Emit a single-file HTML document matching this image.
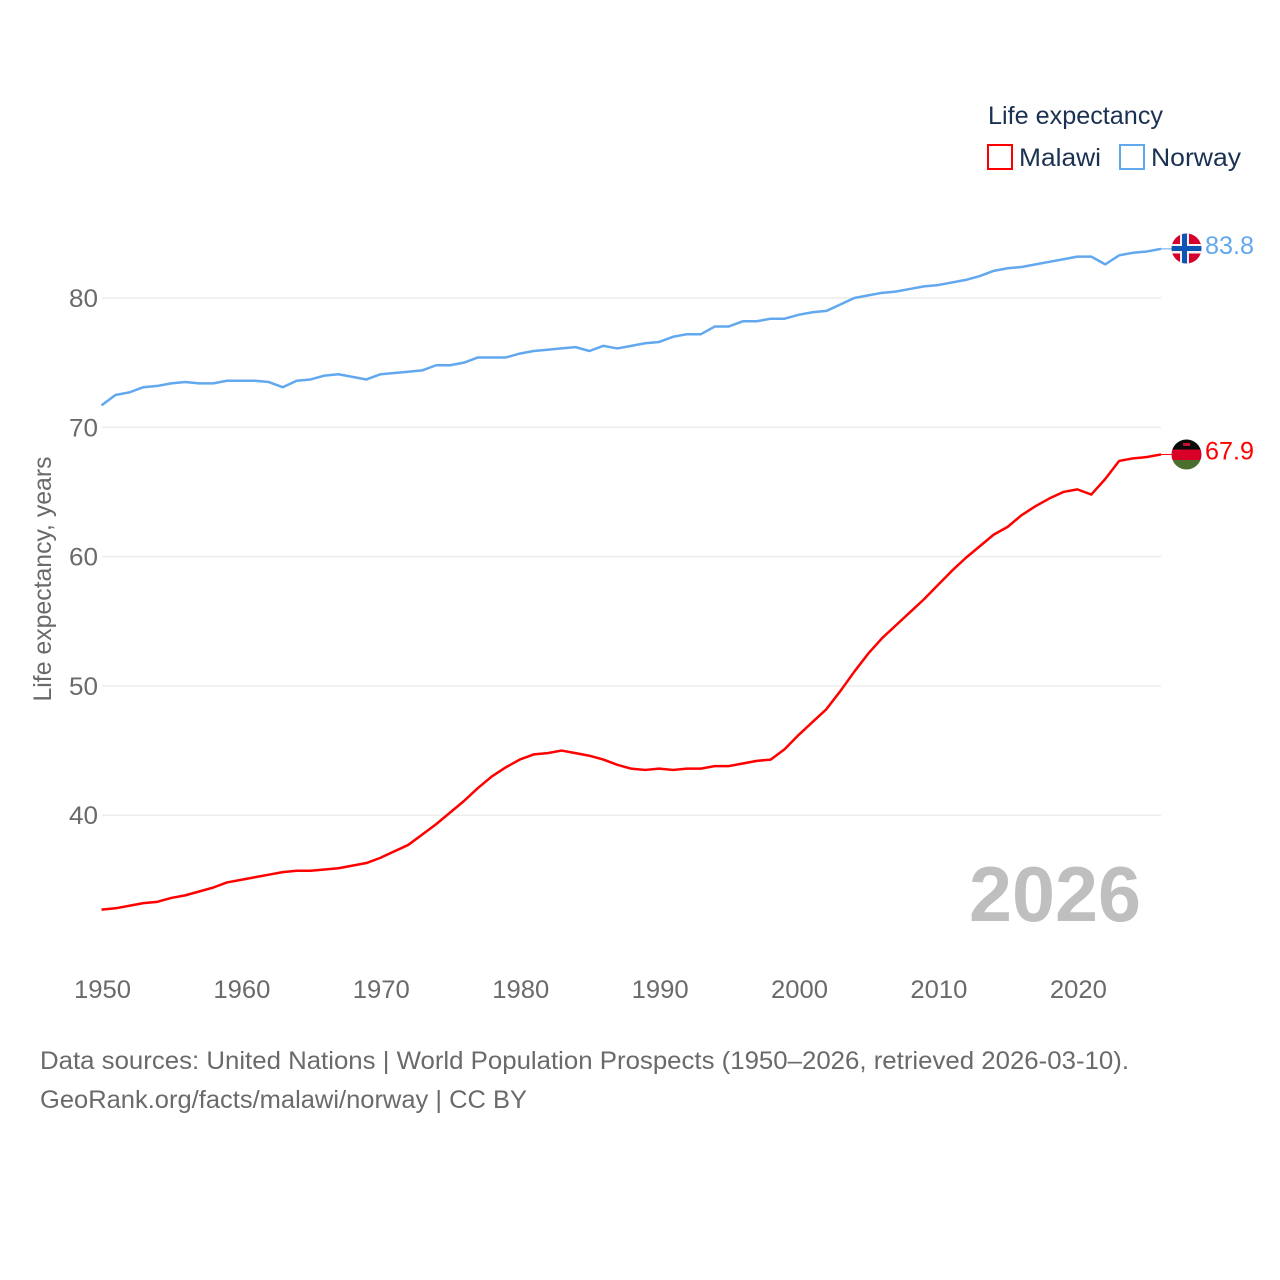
<!DOCTYPE html>
<html lang="en">
<head>
<meta charset="utf-8">
<title>Life expectancy: Malawi and Norway</title>
<style>
  html, body { margin: 0; padding: 0; background: #ffffff; }
  #chart { display: block; width: 1280px; height: 1280px; font-family: "Liberation Sans", sans-serif; }
  .tick { font-size: 25px; fill: #6a6a6a; }
  .note { font-size: 25px; fill: #6a6a6a; }
  .legend-text { font-size: 25px; fill: #1a3152; }
</style>
</head>
<body>
<svg id="chart" xmlns="http://www.w3.org/2000/svg" width="1280" height="1280" viewBox="0 0 1280 1280">
  <defs>
    <clipPath id="clip-norway"><circle cx="1186.5" cy="248.5" r="15"></circle></clipPath>
    <clipPath id="clip-malawi"><circle cx="1186.5" cy="454.5" r="15"></circle></clipPath>
  </defs>
  <rect x="0" y="0" width="1280" height="1280" fill="#ffffff"></rect>
  <g id="grid"></g>
  <g id="y-axis"></g>
  <g id="x-axis"></g>
  <text class="tick" transform="translate(51,579) rotate(-90)" text-anchor="middle" textLength="245" lengthAdjust="spacingAndGlyphs">Life expectancy, years</text>
  <text x="969" y="921" font-size="78" font-weight="700" fill="#bfbfbf" textLength="172" lengthAdjust="spacingAndGlyphs">2026</text>
  <g id="series"></g>

  <g clip-path="url(#clip-norway)">
    <rect x="1171" y="233" width="31" height="31" fill="#d6002f"></rect>
    <rect x="1180" y="233" width="9" height="31" fill="#f2f2f2"></rect>
    <rect x="1171" y="244" width="31" height="9.5" fill="#f2f2f2"></rect>
    <rect x="1182" y="233" width="5" height="31" fill="#0c55b4"></rect>
    <rect x="1171" y="246" width="31" height="5" fill="#0c55b4"></rect>
  </g>
  <g clip-path="url(#clip-malawi)">
    <rect x="1171" y="439" width="31" height="10.5" fill="#0a0a0a"></rect>
    <rect x="1171" y="449.5" width="31" height="10.5" fill="#d80027"></rect>
    <rect x="1171" y="460" width="31" height="11" fill="#4a6f2e"></rect>
    <rect x="1183" y="443" width="7" height="3" fill="#c8102e"></rect>
  </g>

  <text class="legend-text" x="988" y="124" textLength="175" lengthAdjust="spacingAndGlyphs">Life expectancy</text>
  <g>
    <rect x="988" y="145" width="24" height="24" fill="#ffffff" stroke="#ff0000" stroke-width="2"></rect>
    <text class="legend-text" x="1019" y="166" textLength="82" lengthAdjust="spacingAndGlyphs">Malawi</text>
  </g>
  <g>
    <rect x="1120" y="145" width="24" height="24" fill="#ffffff" stroke="#62a8ef" stroke-width="2"></rect>
    <text class="legend-text" x="1151" y="166" textLength="90" lengthAdjust="spacingAndGlyphs">Norway</text>
  </g>

  <text class="note" x="40" y="1069" textLength="1089" lengthAdjust="spacingAndGlyphs">Data sources: United Nations | World Population Prospects (1950–2026, retrieved 2026-03-10).</text>
  <a><text class="note" x="40" y="1108" textLength="487" lengthAdjust="spacingAndGlyphs">GeoRank.org/facts/malawi/norway | CC BY</text></a>
</svg>
<script>
const years = [1950,1951,1952,1953,1954,1955,1956,1957,1958,1959,1960,1961,1962,1963,1964,1965,1966,1967,1968,1969,1970,1971,1972,1973,1974,1975,1976,1977,1978,1979,1980,1981,1982,1983,1984,1985,1986,1987,1988,1989,1990,1991,1992,1993,1994,1995,1996,1997,1998,1999,2000,2001,2002,2003,2004,2005,2006,2007,2008,2009,2010,2011,2012,2013,2014,2015,2016,2017,2018,2019,2020,2021,2022,2023,2024,2025,2026];
const malawiValues = [32.7,32.8,33.0,33.2,33.3,33.6,33.8,34.1,34.4,34.8,35.0,35.2,35.4,35.6,35.7,35.7,35.8,35.9,36.1,36.3,36.7,37.2,37.7,38.5,39.3,40.2,41.1,42.1,43.0,43.7,44.3,44.7,44.8,45.0,44.8,44.6,44.3,43.9,43.6,43.5,43.6,43.5,43.6,43.6,43.8,43.8,44.0,44.2,44.3,45.1,46.2,47.2,48.2,49.6,51.1,52.5,53.7,54.7,55.7,56.7,57.8,58.9,59.9,60.8,61.7,62.3,63.2,63.9,64.5,65.0,65.2,64.8,66.0,67.4,67.6,67.7,67.9];
const norwayValues = [71.7,72.5,72.7,73.1,73.2,73.4,73.5,73.4,73.4,73.6,73.6,73.6,73.5,73.1,73.6,73.7,74.0,74.1,73.9,73.7,74.1,74.2,74.3,74.4,74.8,74.8,75.0,75.4,75.4,75.4,75.7,75.9,76.0,76.1,76.2,75.9,76.3,76.1,76.3,76.5,76.6,77.0,77.2,77.2,77.8,77.8,78.2,78.2,78.4,78.4,78.7,78.9,79.0,79.5,80.0,80.2,80.4,80.5,80.7,80.9,81.0,81.2,81.4,81.7,82.1,82.3,82.4,82.6,82.8,83.0,83.2,83.2,82.6,83.3,83.5,83.6,83.8];
const yTickLabels = [40,50,60,70,80];
const xTickLabels = [1950,1960,1970,1980,1990,2000,2010,2020];

const SVG_NS = 'http://www.w3.org/2000/svg';
const xScale = function (year) { return 101.5 + (year - 1950) * (1161 - 101.5) / 76; };
const yScale = function (value) { return 298 + (80 - value) * 12.93; };

const grid = document.getElementById('grid');
const yAxis = document.getElementById('y-axis');
const xAxis = document.getElementById('x-axis');
const seriesGroup = document.getElementById('series');

yTickLabels.forEach(function (tick) {
  const line = document.createElementNS(SVG_NS, 'line');
  
  
  line.setAttribute('x1', 102);
  line.setAttribute('x2', 1161);
  line.setAttribute('y1', yScale(tick));
  line.setAttribute('y2', yScale(tick));
  line.setAttribute('stroke', '#ececec');
  line.setAttribute('stroke-width', 1.5);
  grid.appendChild(line);

  const label = document.createElementNS(SVG_NS, 'text');
  
  
  label.setAttribute('class', 'tick');
  label.setAttribute('x', 69);
  label.setAttribute('y', yScale(tick) + 9);
  label.setAttribute('textLength', 29);
  label.setAttribute('lengthAdjust', 'spacingAndGlyphs');
  label.textContent = tick;
  yAxis.appendChild(label);
});

xTickLabels.forEach(function (tick) {
  const label = document.createElementNS(SVG_NS, 'text');
  
  
  label.setAttribute('class', 'tick');
  label.setAttribute('x', xScale(tick) - 27.5);
  label.setAttribute('y', 998);
  label.setAttribute('textLength', 57);
  label.setAttribute('lengthAdjust', 'spacingAndGlyphs');
  label.textContent = tick;
  xAxis.appendChild(label);
});

function drawSeries(name, values, color) {
  const path = document.createElementNS(SVG_NS, 'path');
  const d = values.map(function (v, i) {
    return (i === 0 ? 'M' : 'L') + xScale(years[i]).toFixed(2) + ' ' + yScale(v).toFixed(2);
  }).join(' ');
  
  
  path.setAttribute('d', d);
  path.setAttribute('fill', 'none');
  path.setAttribute('stroke', color);
  path.setAttribute('stroke-width', 2.5);
  path.setAttribute('stroke-linejoin', 'round');
  seriesGroup.appendChild(path);

  const last = values[values.length - 1];
  const lastY = yScale(last);

  const connector = document.createElementNS(SVG_NS, 'line');
  
  
  connector.setAttribute('x1', xScale(years[years.length - 1]));
  connector.setAttribute('x2', 1172);
  connector.setAttribute('y1', lastY);
  connector.setAttribute('y2', lastY);
  connector.setAttribute('stroke', color);
  connector.setAttribute('stroke-width', 1);
  seriesGroup.appendChild(connector);

  const endLabel = document.createElementNS(SVG_NS, 'text');
  
  
  endLabel.setAttribute('x', 1205);
  endLabel.setAttribute('y', lastY + 5);
  endLabel.setAttribute('font-size', 25);
  endLabel.setAttribute('fill', color);
  endLabel.setAttribute('textLength', 49);
  endLabel.setAttribute('lengthAdjust', 'spacingAndGlyphs');
  endLabel.textContent = last.toFixed(1);
  seriesGroup.appendChild(endLabel);
}

drawSeries('malawi', malawiValues, '#ff0000');
drawSeries('norway', norwayValues, '#62a8ef');
</script>
</body>
</html>
